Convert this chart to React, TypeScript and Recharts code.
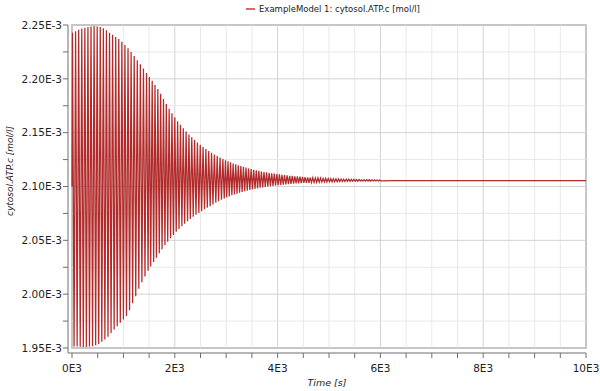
import React from "react";
import {
  LineChart,
  Line,
  XAxis,
  YAxis,
  Legend,
  ReferenceLine,
  ReferenceArea,
} from "recharts";

// cytosol.ATP.c, values in 1E-3 mol/l, read peak by peak off the plot
const seriesName = "ExampleModel 1: cytosol.ATP.c [mol/l]";

const startTime = [0];
const startValue = [2.1];

const peakTime = [
  10, 70, 130, 190, 250, 310, 370, 430, 490, 550, 610, 670, 730, 790, 850, 910,
  970, 1030, 1090, 1150, 1210, 1270, 1330, 1390, 1450,
  1505, 1560, 1615, 1670, 1725, 1780, 1835, 1890, 1945, 2000, 2055, 2110, 2165,
  2220, 2275, 2330, 2385, 2440, 2495, 2550, 2605, 2660, 2715, 2770, 2825, 2880,
  2935,
  2985, 3035, 3085, 3135, 3185, 3235, 3285, 3335, 3385, 3435, 3485, 3535, 3585,
  3635, 3685, 3735, 3785, 3835, 3885, 3935, 3985, 4035, 4085, 4135, 4185, 4235,
  4285, 4335, 4385, 4435, 4485, 4535, 4585, 4635, 4685, 4735, 4785, 4835, 4885,
  4935, 4985, 5035, 5085, 5135, 5185, 5235, 5285, 5335, 5385, 5435, 5485, 5535,
  5585, 5635, 5685, 5735, 5785, 5835, 5885, 5935, 5985,
];

const peakValue = [
  2.2428, 2.2442, 2.2457, 2.2467, 2.2475, 2.2482, 2.2487, 2.249, 2.2487, 2.2481,
  2.2469, 2.2452, 2.2429, 2.2409, 2.2389, 2.2369, 2.2345, 2.2315, 2.2285, 2.225,
  2.2212, 2.2173, 2.2135, 2.2095, 2.2053,
  2.2018, 2.1981, 2.1943, 2.1906, 2.1862, 2.1812, 2.1766, 2.1722, 2.1681, 2.1643,
  2.1607, 2.1573, 2.1541, 2.1511, 2.1484, 2.1457, 2.1432, 2.1409, 2.1388, 2.1367,
  2.1348, 2.133, 2.1313, 2.1297, 2.1283, 2.1269, 2.1256,
  2.1244, 2.1234, 2.1224, 2.1214, 2.1206, 2.1197, 2.1189, 2.1182, 2.1175, 2.1168,
  2.1162, 2.1156, 2.115, 2.1145, 2.114, 2.1135, 2.1131, 2.1126, 2.1122, 2.1119,
  2.1115, 2.1112, 2.1109, 2.1106, 2.1103, 2.11, 2.1098, 2.1095, 2.1093, 2.1091,
  2.1089, 2.1087, 2.1085, 2.1083, 2.1082, 2.108, 2.1079, 2.1078, 2.1076, 2.1075,
  2.1074, 2.1073, 2.1072, 2.1071, 2.107, 2.1069, 2.1068, 2.1068, 2.1067, 2.1066,
  2.1066, 2.1065, 2.1065, 2.1064, 2.1064, 2.1063, 2.1063, 2.1062, 2.1062, 2.1061,
  2.1061,
];

const troughTime = [
  40, 100, 160, 220, 280, 340, 400, 460, 520, 580, 640, 700, 760, 820, 880, 940,
  1000, 1060, 1120, 1180, 1240, 1300, 1360, 1420, 1480,
  1532, 1588, 1642, 1698, 1752, 1808, 1862, 1918, 1972, 2028, 2082, 2138, 2192,
  2248, 2302, 2358, 2412, 2468, 2522, 2578, 2632, 2688, 2742, 2798, 2852, 2908,
  2962,
  3010, 3060, 3110, 3160, 3210, 3260, 3310, 3360, 3410, 3460, 3510, 3560, 3610,
  3660, 3710, 3760, 3810, 3860, 3910, 3960, 4010, 4060, 4110, 4160, 4210, 4260,
  4310, 4360, 4410, 4460, 4510, 4560, 4610, 4660, 4710, 4760, 4810, 4860, 4910,
  4960, 5010, 5060, 5110, 5160, 5210, 5260, 5310, 5360, 5410, 5460, 5510, 5560,
  5610, 5660, 5710, 5760, 5810, 5860, 5910, 5960, 6010,
];

const troughValue = [
  1.9515, 1.9513, 1.9511, 1.951, 1.951, 1.9513, 1.9517, 1.9525, 1.9537, 1.9557,
  1.958, 1.9605, 1.964, 1.9672, 1.9703, 1.9735, 1.9764, 1.9798, 1.985, 1.9915,
  1.998, 2.005, 2.011, 2.0165, 2.0217,
  2.0256, 2.0298, 2.0338, 2.038, 2.0418, 2.0455, 2.0488, 2.052, 2.055, 2.0579,
  2.0605, 2.063, 2.0654, 2.0677, 2.0698, 2.0718, 2.0737, 2.0755, 2.0771, 2.0788,
  2.0802, 2.0816, 2.0833, 2.0849, 2.0863, 2.0876, 2.0888,
  2.0898, 2.0908, 2.0918, 2.0926, 2.0934, 2.0942, 2.0949, 2.0956, 2.0962, 2.0968,
  2.0973, 2.0978, 2.0983, 2.0988, 2.0992, 2.0996, 2.1, 2.1003, 2.1006, 2.1009,
  2.1012, 2.1015, 2.1018, 2.102, 2.1022, 2.1024, 2.1026, 2.1028, 2.103, 2.1031,
  2.1033, 2.1034, 2.1035, 2.1037, 2.1038, 2.1039, 2.104, 2.1041, 2.1042, 2.1043,
  2.1043, 2.1044, 2.1045, 2.1045, 2.1046, 2.1047, 2.1047, 2.1048, 2.1048, 2.1049,
  2.1049, 2.1049, 2.105, 2.105, 2.105, 2.1051, 2.1051, 2.1051, 2.1051, 2.1052,
  2.1052,
];

// settled part
const tailTime = [6300, 10000];
const tailValue = [2.1054, 2.1054];

const xTicks = [
  0, 500, 1000, 1500, 2000, 2500, 3000, 3500, 4000, 4500, 5000, 5500, 6000,
  6500, 7000, 7500, 8000, 8500, 9000, 9500, 10000,
];
const yTicks = [
  1.95, 1.975, 2.0, 2.025, 2.05, 2.075, 2.1, 2.125, 2.15, 2.175, 2.2, 2.225,
  2.25,
];

const toPoints = (times: number[], values: number[]) =>
  times.map((t, i) => ({ t, v: values[i] }));

const data = [
  ...toPoints(startTime, startValue),
  ...toPoints(peakTime, peakValue),
  ...toPoints(troughTime, troughValue),
  ...toPoints(tailTime, tailValue),
].sort((a, b) => a.t - b.t);

const font = "DejaVu Sans";
const axisColor = "#6e6e6e";
const majorGrid = "#d2d2d2";
const minorGrid = "#e8e8e8";
const lineColor = "#b22a2a";

const isMajorX = (v: number) => v % 2000 === 0;
const isMajorY = (v: number) => Math.round(v * 1000) % 50 === 0;

const YTitle = (props: any) => {
  const vb = props.viewBox || { x: 0, y: 25, height: 328 };
  const cx = vb.x + 10;
  const cy = vb.y + vb.height / 2 - 18;
  return (
    <text
      x={cx}
      y={cy}
      transform={`rotate(-90 ${cx} ${cy})`}
      textAnchor="middle"
      dominantBaseline="central"
      fontFamily={font}
      fontSize={9}
      fontStyle="italic"
      fill="#222"
    >
      cytosol.ATP.c [mol/l]
    </text>
  );
};

export default function App() {
  return (
    <div
      style={{
        position: "absolute",
        left: 0,
        top: 0,
        width: 600,
        height: 391,
        background: "#fff",
      }}
    >
      <LineChart
        width={600}
        height={391}
        data={data}
        margin={{ top: 25, right: 14, left: 0, bottom: 0 }}
        style={{ fontFamily: font }}
      >
        <XAxis
          type="number"
          dataKey="t"
          domain={[0, 10000]}
          ticks={xTicks}
          interval={0}
          height={38}
          padding={{ left: 4, right: 0 }}
          tickSize={5}
          tickMargin={7}
          tickFormatter={(v: number) => (isMajorX(v) ? `${v / 1000}E3` : "")}
          tick={{ fontSize: 10.5, fill: "#222", fontFamily: font }}
          tickLine={{ stroke: axisColor }}
          axisLine={{ stroke: axisColor }}
          label={{
            value: "Time [s]",
            position: "insideBottom",
            offset: 5,
            fontSize: 9.5,
            fontStyle: "italic",
            fill: "#222",
            fontFamily: font,
          }}
        />
        <YAxis
          type="number"
          domain={[1.95, 2.25]}
          ticks={yTicks}
          interval={0}
          width={68}
          padding={{ top: 0, bottom: 5 }}
          tickSize={5}
          tickMargin={1}
          tickFormatter={(v: number) =>
            isMajorY(v) ? `${v.toFixed(2)}E-3` : ""
          }
          tick={{ fontSize: 10.5, fill: "#222", fontFamily: font }}
          tickLine={{ stroke: axisColor }}
          axisLine={{ stroke: axisColor }}
          label={{ content: <YTitle /> }}
        />

        {xTicks.map((t) => (
          <ReferenceLine
            key={`gx${t}`}
            segment={[
              { x: t, y: 1.95 },
              { x: t, y: 2.25 },
            ]}
            stroke={isMajorX(t) ? majorGrid : minorGrid}
            strokeWidth={1}
          />
        ))}
        {yTicks.map((v) => (
          <ReferenceLine
            key={`gy${v}`}
            segment={[
              { x: 0, y: v },
              { x: 10000, y: v },
            ]}
            stroke={isMajorY(v) ? majorGrid : minorGrid}
            strokeWidth={1}
          />
        ))}
        <ReferenceArea
          x1={0}
          x2={10000}
          y1={1.95}
          y2={2.25}
          fill="none"
          fillOpacity={0}
          stroke="#a4a4a4"
          strokeWidth={1.5}
        />

        <Line
          type="linear"
          dataKey="v"
          name={seriesName}
          stroke={lineColor}
          strokeWidth={1.25}
          dot={false}
          activeDot={false}
          isAnimationActive={false}
        />

        <Legend
          layout="horizontal"
          verticalAlign="middle"
          align="center"
          wrapperStyle={{ top: 4, left: 246, width: "auto", height: "auto" }}
          content={(props: any) => (
            <div
              style={{
                display: "flex",
                alignItems: "center",
                fontFamily: font,
                fontSize: 8.5,
                color: "#222",
                whiteSpace: "nowrap",
              }}
            >
              {(props.payload || []).map((p: any) => (
                <React.Fragment key={p.value}>
                  <span
                    style={{
                      display: "inline-block",
                      width: 9,
                      height: 1.5,
                      background: "#d86a6a",
                      marginRight: 4,
                    }}
                  />
                  <span>{p.value}</span>
                </React.Fragment>
              ))}
            </div>
          )}
        />
      </LineChart>
    </div>
  );
}
